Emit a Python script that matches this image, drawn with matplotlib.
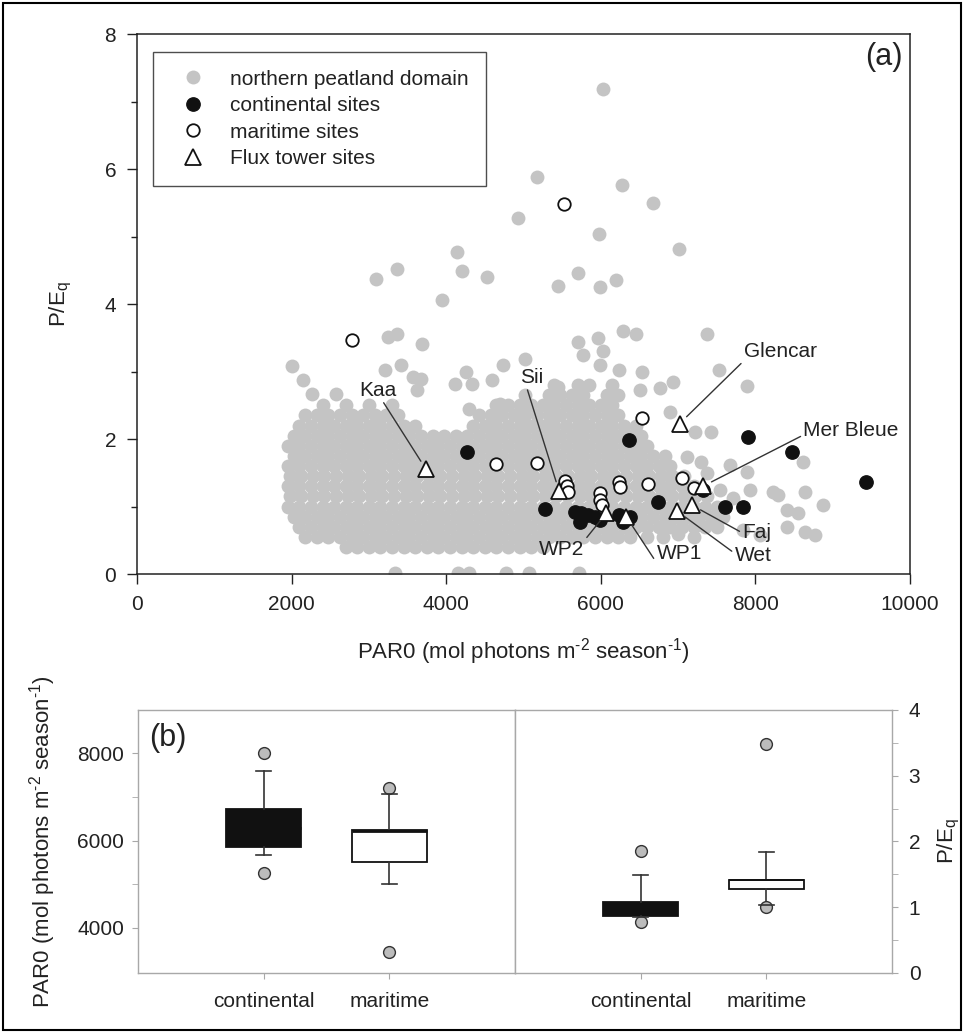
import numpy as np
import matplotlib
matplotlib.use('Agg')
import matplotlib.pyplot as plt
from matplotlib.patches import Rectangle

plt.rcParams['font.family'] = ['Liberation Sans', 'DejaVu Sans']
plt.rcParams['mathtext.fontset'] = 'custom'
plt.rcParams['mathtext.rm'] = 'Liberation Sans'
plt.rcParams['mathtext.it'] = 'Liberation Sans'

# ---- panel (a) data ----
# dense part of the northern peatland domain cloud, read row by row (P/Eq, PAR0 values)
peat_rows = [
    (0.40, [2700, 2850, 3000, 3150, 3300, 3450, 3600, 3750, 3900, 4050, 4200, 4350, 4500,
            4650, 4800, 4950, 5100, 5250]),
    (0.55, [2175, 2325, 2475, 2625, 2775, 2925, 3075, 3225, 3375, 3525, 3675, 3825, 3975,
            4125, 4275, 4425, 4575, 4725, 4875, 5025, 5175, 5325, 5475, 5625, 5775, 5925,
            6075, 6225, 6375, 6600, 6800]),
    (0.70, [2100, 2250, 2400, 2550, 2700, 2850, 3000, 3150, 3300, 3450, 3600, 3750, 3900,
            4050, 4200, 4350, 4500, 4650, 4800, 4950, 5100, 5250, 5400, 5550, 5700, 5850,
            6000, 6150, 6300, 6450, 6600, 6750, 6900, 7050, 7200, 7350, 7500]),
    (0.85, [2025, 2175, 2325, 2475, 2625, 2775, 2925, 3075, 3225, 3375, 3525, 3675, 3825,
            3975, 4125, 4275, 4425, 4575, 4725, 4875, 5025, 5175, 5325, 5475, 5625, 5775,
            5925, 6075, 6225, 6375, 6525, 6675, 6825, 6975, 7125, 7275, 7425, 7575]),
    (1.00, [1950, 2100, 2250, 2400, 2550, 2700, 2850, 3000, 3150, 3300, 3450, 3600, 3750,
            3900, 4050, 4200, 4350, 4500, 4650, 4800, 4950, 5100, 5250, 5400, 5550, 5700,
            5850, 6000, 6150, 6300, 6450, 6600, 6750, 6900, 7050, 7200, 7350, 7500]),
    (1.15, [1975, 2125, 2275, 2425, 2575, 2725, 2875, 3025, 3175, 3325, 3475, 3625, 3775,
            3925, 4075, 4225, 4375, 4525, 4675, 4825, 4975, 5125, 5275, 5425, 5575, 5725,
            5875, 6025, 6175, 6325, 6475, 6625, 6775, 6925, 7075, 7225, 7375]),
    (1.30, [1950, 2100, 2250, 2400, 2550, 2700, 2850, 3000, 3150, 3300, 3450, 3600, 3750,
            3900, 4050, 4200, 4350, 4500, 4650, 4800, 4950, 5100, 5250, 5400, 5550, 5700,
            5850, 6000, 6150, 6300, 6450, 6600, 6750, 6900, 7050, 7200]),
    (1.45, [1975, 2125, 2275, 2425, 2575, 2725, 2875, 3025, 3175, 3325, 3475, 3625, 3775,
            3925, 4075, 4225, 4375, 4525, 4675, 4825, 4975, 5125, 5275, 5425, 5575, 5725,
            5875, 6025, 6175, 6325, 6475, 6625, 6775, 6925, 7075]),
    (1.60, [1950, 2100, 2250, 2400, 2550, 2700, 2850, 3000, 3150, 3300, 3450, 3600, 3750,
            3900, 4050, 4200, 4350, 4500, 4650, 4800, 4950, 5100, 5250, 5400, 5550, 5700,
            5850, 6000, 6150, 6300, 6450, 6600, 6750, 6900]),
    (1.75, [2025, 2175, 2325, 2475, 2625, 2775, 2925, 3075, 3225, 3375, 3525, 3675, 3825,
            3975, 4125, 4275, 4425, 4575, 4725, 4875, 5025, 5175, 5325, 5475, 5625, 5775,
            5925, 6075, 6225, 6375, 6525, 6675, 6825]),
    (1.90, [1950, 2100, 2250, 2400, 2550, 2700, 2850, 3000, 3150, 3300, 3450, 3600, 3750,
            3900, 4050, 4200, 4350, 4500, 4650, 4800, 4950, 5100, 5250, 5400, 5550, 5700,
            5850, 6000, 6150, 6300, 6450, 6600]),
    (2.05, [2025, 2175, 2325, 2475, 2625, 2775, 2925, 3075, 3225, 3375, 3525, 3675, 3825,
            3975, 4125, 4275, 4425, 4575, 4725, 4875, 5025, 5175, 5325, 5475, 5625, 5775,
            5925, 6075, 6225, 6375, 6525]),
    (2.20, [2100, 2250, 2400, 2550, 2700, 2850, 3000, 3150, 3300, 3450, 3600, 4350, 4500,
            4650, 4800, 4950, 5100, 5250, 5400, 5550, 5700, 5850, 6000, 6150, 6300, 6450]),
    (2.35, [2175, 2325, 2475, 2625, 2775, 2925, 3075, 3225, 3375, 4425, 4575, 4725, 4875,
            5025, 5175, 5325, 5475, 5625, 5775, 5925, 6075, 6225]),
    (2.50, [2400, 2700, 3000, 3300, 4650, 4800, 4950, 5100, 5250, 5400, 5550, 5700, 5850,
            6000, 6150]),
    (2.65, [5025, 5325, 5475, 5625, 5775, 6075, 6225]),
    (2.80, [5400, 5700, 5850, 6150]),
]

# scattered peatland points outside the dense cloud
peat_x_extra = [6030, 5170, 6270, 6670, 4930, 5980, 7010, 4140, 4210, 4530, 3360, 3090, 3950,
                5450, 5710, 5990, 6200,
                6290, 6460, 7370, 5710, 5970, 6030, 5770, 5990, 6530, 6230, 7530, 6940, 6770,
                7890, 6510, 6900, 7430, 7220, 7110, 7300, 8620,
                3250, 3360, 3690, 2000, 2150, 3210, 3420, 3570, 3680, 3620, 4110, 4260, 4330,
                4590, 4740, 5020, 4290, 4700, 5450, 2580, 2260,
                7370, 7540, 7710, 7490, 7840, 8060, 7670, 7930, 7890, 8230, 8290, 8410, 8550,
                8880, 8640, 8770, 8410, 8640, 7000, 7200,
                3340, 4150, 4300, 4770, 5070, 5720]
peat_y_extra = [7.19, 5.88, 5.77, 5.50, 5.28, 5.04, 4.82, 4.77, 4.49, 4.40, 4.52, 4.37, 4.06,
                4.27, 4.46, 4.25, 4.35,
                3.60, 3.56, 3.56, 3.44, 3.50, 3.31, 3.24, 3.09, 3.00, 3.03, 3.03, 2.85, 2.75,
                2.78, 2.72, 2.40, 2.10, 2.10, 1.74, 1.66, 1.66,
                3.51, 3.56, 3.41, 3.08, 2.87, 3.02, 3.09, 2.92, 2.89, 2.72, 2.82, 2.99, 2.82,
                2.87, 3.09, 3.19, 2.45, 2.52, 2.77, 2.67, 2.67,
                1.49, 1.24, 1.12, 0.80, 0.65, 0.58, 1.61, 1.24, 1.51, 1.22, 1.17, 0.95, 0.90,
                1.02, 0.62, 0.58, 0.70, 1.22, 0.60, 0.55,
                0.02, 0.02, 0.02, 0.02, 0.02, 0.02]

cont_x = [4270, 5280, 6360, 7910, 8470, 9430, 5670, 5750, 5840, 5930, 5730, 5990, 6230,
          6290, 6380, 6740, 7610, 7840, 7320]
cont_y = [1.81, 0.97, 1.98, 2.03, 1.81, 1.36, 0.92, 0.90, 0.87, 0.85, 0.77, 0.80, 0.87,
          0.77, 0.85, 1.07, 1.00, 0.99, 1.24]

mari_x = [2780, 5530, 4640, 5170, 6530, 5540, 5560, 5570, 5990, 5990, 6010, 6230, 6250,
          6610, 7050, 7200]
mari_y = [3.47, 5.48, 1.63, 1.64, 2.31, 1.38, 1.30, 1.22, 1.20, 1.10, 1.02, 1.37, 1.29,
          1.33, 1.43, 1.27]

flux_names = ['Kaa', 'Sii', 'Glencar', 'Mer Bleue', 'Faj', 'Wet', 'WP1', 'WP2']
flux_x = [3740, 5460, 7020, 7320, 7180, 6990, 6330, 6070]
flux_y = [1.55, 1.23, 2.23, 1.30, 1.02, 0.93, 0.85, 0.90]
# label placement: text position, alignment and leader start point on the text box
label_x = [3120, 5100, 7850, 8620, 7830, 7730, 6720, 5790]
label_y = [2.72, 2.91, 3.30, 2.13, 0.61, 0.28, 0.31, 0.36]
label_ha = ['center', 'center', 'left', 'left', 'left', 'left', 'left', 'right']
label_relpos = [(0.6, 0.0), (0.3, 0.0), (0.0, 0.0), (0.0, 0.25), (0.0, 0.5), (0.0, 0.6),
                (0.0, 0.0), (1.0, 1.0)]

# ---- panel (b) box statistics ----
groups = ['continental', 'maritime']
par_q1 = [5860, 5520]
par_med = [6300, 6230]
par_q3 = [6730, 6250]
par_lo = [5660, 5000]
par_hi = [7600, 7070]
par_fliers = [[8000, 5270], [7210, 3440]]

peq_q1 = [0.87, 1.27]
peq_med = [0.97, 1.41]
peq_q3 = [1.08, 1.41]
peq_lo = [0.85, 1.03]
peq_hi = [1.49, 1.84]
peq_fliers = [[1.85, 0.78], [3.49, 1.00]]

GREY = '#c4c4c4'
DARK = '#222222'
FS = 15
UNITS = 'PAR0 (mol photons m$^{\u20102}$ season$^{\u20101}$)'

peat_x = np.concatenate([np.array(xs, float) for _, xs in peat_rows] + [np.array(peat_x_extra, float)])
peat_y = np.concatenate([np.full(len(xs), y) for y, xs in peat_rows] + [np.array(peat_y_extra, float)])

fig = plt.figure(figsize=(9.64, 10.33), dpi=100)

# ---------------- panel (a) ----------------
ax = fig.add_axes([0.1421, 0.4443, 0.8019, 0.5227])
ax.plot(peat_x, peat_y, ls='none', marker='o', ms=10, mfc=GREY, mec='none',
        label='northern peatland domain', zorder=2)
ax.plot(cont_x, cont_y, ls='none', marker='o', ms=9.6, mfc='#111111', mec='#111111',
        label='continental sites', zorder=3)
ax.plot(mari_x, mari_y, ls='none', marker='o', ms=9.0, mfc='white', mec='#111111', mew=1.3,
        label='maritime sites', zorder=4)
ax.plot(flux_x, flux_y, ls='none', marker='^', ms=11.5, mfc='white', mec='#111111', mew=1.3,
        label='Flux tower sites', zorder=5)

for i, name in enumerate(flux_names):
    ax.annotate(name, xy=(flux_x[i], flux_y[i]), xytext=(label_x[i], label_y[i]),
                ha=label_ha[i], va='center', fontsize=FS, color=DARK, zorder=6,
                arrowprops=dict(arrowstyle='-', color='#333333', lw=1.0,
                                relpos=label_relpos[i], shrinkA=0, shrinkB=7))

ax.set_xlim(0, 10000)
ax.set_ylim(0, 8)
ax.set_xticks([0, 2000, 4000, 6000, 8000, 10000])
ax.set_yticks([0, 2, 4, 6, 8])
ax.set_yticks([1, 3, 5, 7], minor=True)
ax.tick_params(which='major', direction='out', length=7, width=1, labelsize=FS,
               colors=DARK, pad=8)
ax.tick_params(which='minor', direction='out', length=4, width=1, colors=DARK)
for s in ax.spines.values():
    s.set_color(DARK)
    s.set_linewidth(1.1)
ax.set_xlabel(UNITS, fontsize=16, color=DARK, labelpad=16)
ax.set_ylabel('P/E$_\\mathrm{q}$', fontsize=16, color=DARK, labelpad=22)
ax.text(0.99, 0.985, '(a)', transform=ax.transAxes, ha='right', va='top', fontsize=22,
        color=DARK)

leg = ax.legend(loc='upper left', bbox_to_anchor=(0.0207, 0.9667), borderaxespad=0,
                fontsize=FS, frameon=True, fancybox=False, borderpad=0.85,
                handlelength=2.15, handletextpad=0.7, labelspacing=0.36)
leg.get_frame().set_edgecolor(DARK)
leg.get_frame().set_linewidth(1.0)
for t in leg.get_texts():
    t.set_color(DARK)


# ---------------- panel (b) ----------------
def box_stats(q1, med, q3, lo, hi, fliers):
    return [dict(q1=q1[i], med=med[i], q3=q3[i], whislo=lo[i], whishi=hi[i],
                 fliers=fliers[i], label=groups[i]) for i in range(len(groups))]


def draw_boxes(axb, stats, med_lw):
    out = axb.bxp(stats, positions=[1, 2], widths=0.6, patch_artist=True, capwidths=0.12,
                  boxprops=dict(edgecolor='#111111', linewidth=1.3),
                  medianprops=dict(color='#111111', linewidth=med_lw),
                  whiskerprops=dict(color='#333333', linewidth=1.2),
                  capprops=dict(color='#333333', linewidth=1.2, zorder=4),
                  flierprops=dict(marker='o', markersize=8.5, markerfacecolor='#bcbcbc',
                                  markeredgecolor='#333333', markeredgewidth=1.0))
    out['boxes'][0].set_facecolor('#111111')
    out['boxes'][1].set_facecolor('white')
    for fl in out['fliers']:
        fl.set_zorder(3)
    axb.set_xlim(0, 3)
    axb.set_xticks([1, 2])
    axb.set_xticklabels(groups)
    for s in axb.spines.values():
        s.set_color('#a8a8a8')
        s.set_linewidth(1.0)
    axb.tick_params(axis='x', length=4, color='#a8a8a8', labelsize=FS, labelcolor=DARK, pad=10)


ax1 = fig.add_axes([0.1432, 0.0581, 0.3911, 0.2546])
draw_boxes(ax1, box_stats(par_q1, par_med, par_q3, par_lo, par_hi, par_fliers), 2.0)
ax1.set_ylim(2970, 8990)
ax1.set_yticks([4000, 6000, 8000])
ax1.set_yticks([5000, 7000], minor=True)
ax1.tick_params(axis='y', which='both', direction='out', length=4, color='#a8a8a8',
                labelsize=FS, labelcolor=DARK, pad=6)
ax1.set_ylabel(UNITS, fontsize=16, color=DARK, labelpad=14)
ax1.text(0.03, 0.95, '(b)', transform=ax1.transAxes, ha='left', va='top', fontsize=22,
         color=DARK)

ax2 = fig.add_axes([0.5342, 0.0581, 0.3911, 0.2546])
draw_boxes(ax2, box_stats(peq_q1, peq_med, peq_q3, peq_lo, peq_hi, peq_fliers), 1.3)
ax2.set_ylim(0, 4)
ax2.set_yticks([0, 1, 2, 3, 4])
ax2.set_yticks([0.5, 1.5, 2.5, 3.5], minor=True)
ax2.yaxis.tick_right()
ax2.yaxis.set_label_position('right')
ax2.tick_params(axis='y', which='both', direction='out', length=4, color='#a8a8a8',
                labelsize=FS, labelcolor=DARK, pad=8)
ax2.set_ylabel('P/E$_\\mathrm{q}$', fontsize=16, color=DARK, labelpad=11)

# outer frame around the whole figure
fig.patches.append(Rectangle((0.003, 0.003), 0.994, 0.994, transform=fig.transFigure,
                             fill=False, edgecolor='black', linewidth=1.5))

fig.savefig('out.png', dpi=100)
